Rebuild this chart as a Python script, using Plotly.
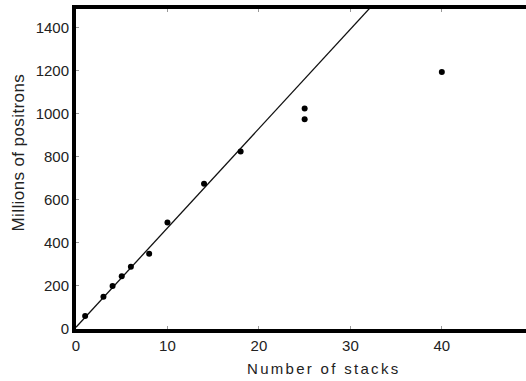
import plotly.graph_objects as go

stacks = [1, 3, 4, 5, 6, 8, 10, 14, 18, 25, 25, 40]
positrons = [60, 150, 200, 245, 290, 350, 495, 675, 825, 1025, 975, 1195]

fit_slope = 46.2
fit_intercept = 8
fit_x = [0, 40]
fit_y = [fit_intercept + fit_slope * x for x in fit_x]

x_ticks = [0, 10, 20, 30, 40]
y_ticks = [0, 200, 400, 600, 800, 1000, 1200, 1400]

x_title = "Number of stacks"
y_title = "Millions of positrons"

fig = go.Figure()
fig.add_trace(go.Scatter(x=fit_x, y=fit_y, mode="lines",
                         line=dict(color="#111", width=1.3), showlegend=False))
fig.add_trace(go.Scatter(x=stacks, y=positrons, mode="markers",
                         marker=dict(color="#000", size=6), showlegend=False))

font_family = "Liberation Sans, Arial"
axis_common = dict(showgrid=False, zeroline=False, showline=True, linecolor="#000",
                   linewidth=4, ticks="inside", ticklen=3,
                   tickcolor="#999", tickwidth=1,
                   tickfont=dict(family=font_family, size=15, color="#222"))

fig.update_layout(
    width=560, height=381,
    margin=dict(l=76, r=0, t=9, b=52),
    paper_bgcolor="white", plot_bgcolor="white",
    xaxis=dict(range=[0, 52.92], tickvals=x_ticks, mirror="ticks", **axis_common),
    yaxis=dict(range=[0, 1488], tickvals=y_ticks, mirror=False, **axis_common),
    annotations=[
        dict(text=f'<span style="letter-spacing:2.3px">{x_title}</span>',
             xref="paper", yref="paper", x=0.5124, y=0, xanchor="center", yanchor="middle",
             yshift=-39, showarrow=False,
             font=dict(family=font_family, size=15, color="#222")),
        dict(text=f'<span style="letter-spacing:0.4px">{y_title}</span>',
             xref="paper", yref="paper", x=0, y=0.5516, xanchor="center", yanchor="middle",
             xshift=-58, textangle=-90, showarrow=False,
             font=dict(family=font_family, size=17, color="#222")),
    ],
)
fig.write_html("out.html", config={"displayModeBar": False},
               post_script="document.body.style.margin='0';document.body.style.overflow='hidden';")
